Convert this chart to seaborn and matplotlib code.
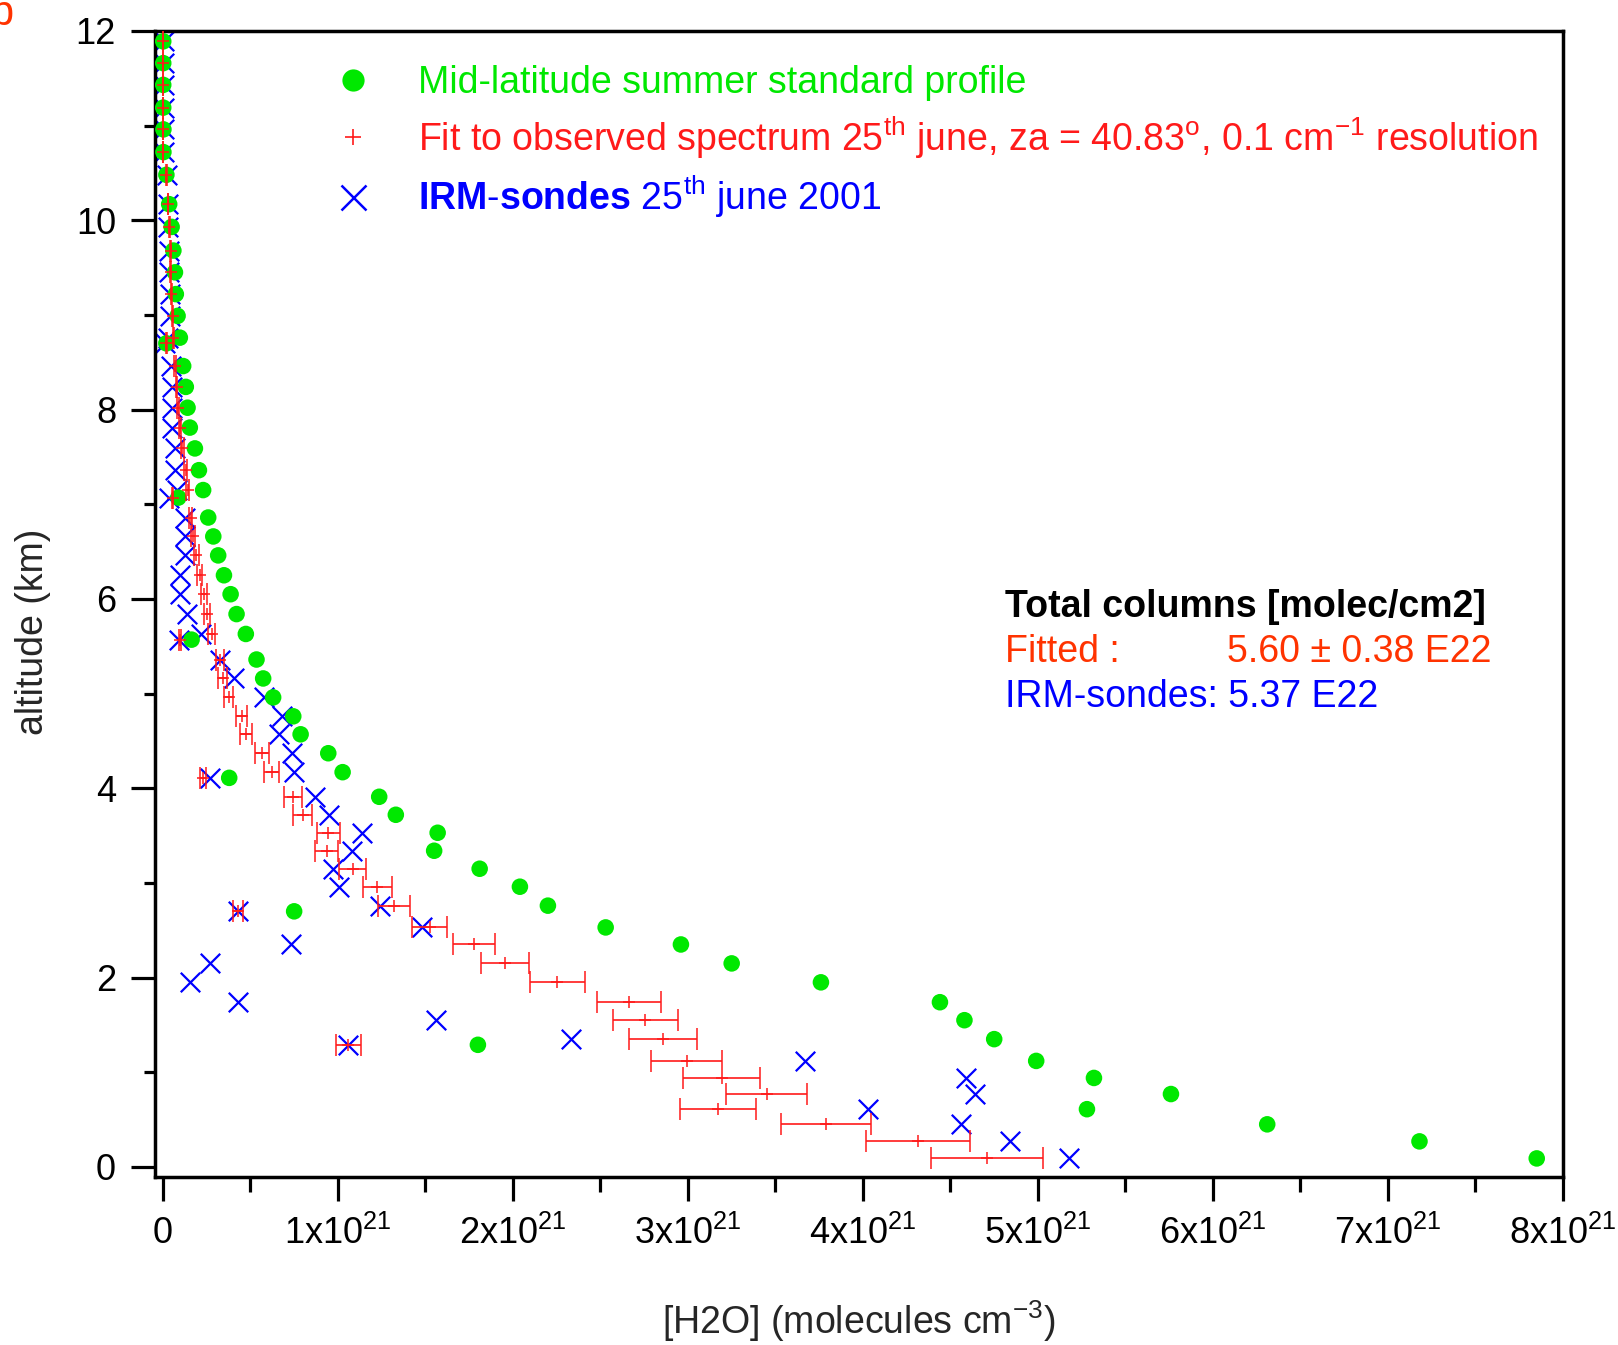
import numpy as np
import pandas as pd
import matplotlib
matplotlib.use('Agg')
import matplotlib.pyplot as plt
from matplotlib.lines import Line2D
from matplotlib.ticker import MultipleLocator
import seaborn as sns

# altitude grid shared by the three profiles (km)
altitude_km = [11.89, 11.66, 11.43, 11.19, 10.96, 10.72, 10.48, 10.17, 9.93, 9.68,
               9.45, 9.22, 8.99, 8.76, 8.70, 8.46, 8.24, 8.02, 7.81, 7.59,
               7.36, 7.15, 7.07, 6.86, 6.66, 6.46, 6.25, 6.05, 5.84, 5.63,
               5.57, 5.36, 5.16, 4.96, 4.76, 4.57, 4.37, 4.17, 4.11, 3.91,
               3.72, 3.53, 3.34, 3.15, 2.96, 2.76, 2.70, 2.53, 2.35, 2.15,
               1.95, 1.74, 1.55, 1.35, 1.29, 1.12, 0.94, 0.77, 0.61, 0.45,
               0.27, 0.09]

# [H2O] in units of 1e21 molecules cm-3
h2o_standard = [0.002, 0.002, 0.002, 0.002, 0.003, 0.003, 0.020, 0.036, 0.050, 0.060,
                0.069, 0.074, 0.084, 0.097, 0.020, 0.116, 0.131, 0.141, 0.154, 0.183,
                0.206, 0.230, 0.088, 0.259, 0.288, 0.316, 0.349, 0.387, 0.421, 0.474,
                0.164, 0.535, 0.573, 0.630, 0.745, 0.787, 0.945, 1.027, 0.379, 1.236,
                1.331, 1.570, 1.550, 1.810, 2.040, 2.200, 0.750, 2.530, 2.960, 3.250,
                3.760, 4.440, 4.580, 4.750, 1.800, 4.990, 5.320, 5.760, 5.280, 6.310,
                7.180, 7.850]

h2o_fitted = [0.002, 0.002, 0.002, 0.002, 0.003, 0.003, 0.020, 0.030, 0.036, 0.044,
              0.044, 0.047, 0.055, 0.060, 0.020, 0.069, 0.078, 0.084, 0.097, 0.112,
              0.131, 0.141, 0.055, 0.158, 0.173, 0.192, 0.211, 0.236, 0.253, 0.278,
              0.097, 0.326, 0.341, 0.377, 0.450, 0.474, 0.567, 0.621, 0.230, 0.745,
              0.798, 0.945, 0.935, 1.084, 1.225, 1.320, 0.430, 1.526, 1.780, 1.954,
              2.253, 2.665, 2.756, 2.857, 1.060, 2.993, 3.192, 3.450, 3.173, 3.790,
              4.316, 4.709]

h2o_fitted_err = [0.0002, 0.0002, 0.0002, 0.0002, 0.0002, 0.0002, 0.001, 0.002, 0.003, 0.003,
                  0.003, 0.003, 0.004, 0.004, 0.001, 0.005, 0.005, 0.006, 0.007, 0.008,
                  0.009, 0.010, 0.004, 0.011, 0.012, 0.013, 0.015, 0.017, 0.018, 0.019,
                  0.007, 0.023, 0.024, 0.026, 0.031, 0.033, 0.040, 0.043, 0.016, 0.052,
                  0.056, 0.066, 0.065, 0.077, 0.083, 0.090, 0.030, 0.100, 0.120, 0.136,
                  0.158, 0.183, 0.186, 0.193, 0.072, 0.204, 0.218, 0.232, 0.218, 0.257,
                  0.296, 0.318]

h2o_sondes = [0.004, 0.004, 0.005, 0.005, 0.006, 0.008, 0.025, 0.030, 0.030, 0.035,
              0.035, 0.040, 0.040, 0.030, 0.010, 0.045, 0.050, 0.050, 0.050, 0.070,
              0.070, 0.080, 0.035, 0.126, 0.126, 0.124, 0.100, 0.100, 0.139, 0.215,
              0.091, 0.326, 0.405, 0.578, 0.678, 0.665, 0.735, 0.752, 0.269, 0.871,
              0.950, 1.135, 1.082, 0.973, 1.007, 1.240, 0.430, 1.480, 0.730, 0.270,
              0.155, 0.430, 1.560, 2.330, 1.060, 3.670, 4.590, 4.640, 4.030, 4.560,
              4.840, 5.180]

x_tick_values = [0, 1, 2, 3, 4, 5, 6, 7, 8]
x_tick_labels = ['0', '1x10$^{21}$', '2x10$^{21}$', '3x10$^{21}$', '4x10$^{21}$',
                 '5x10$^{21}$', '6x10$^{21}$', '7x10$^{21}$', '8x10$^{21}$']

series_labels = ['Mid-latitude summer standard profile',
                 'Fit to observed spectrum 25$^{th}$ june, za = 40.83$^{o}$, 0.1 cm$^{-1}$ resolution',
                 r'$\mathbf{IRM}$-$\mathbf{sondes}$ 25$^{th}$ june 2001']

GREEN = '#00e800'
RED = '#ff1a1a'
BLUE = '#0000ff'
ORANGE = '#ff3300'

sns.set_style('ticks')
plt.rcParams['font.family'] = ['Liberation Sans', 'DejaVu Sans']
plt.rcParams['mathtext.fontset'] = 'custom'
plt.rcParams['mathtext.rm'] = 'Liberation Sans'
plt.rcParams['mathtext.it'] = 'Liberation Sans:italic'
plt.rcParams['mathtext.bf'] = 'Liberation Sans:bold'
plt.rcParams['mathtext.default'] = 'regular'

df = pd.DataFrame({'alt': altitude_km, 'standard': h2o_standard,
                   'fitted': h2o_fitted, 'err': h2o_fitted_err, 'sondes': h2o_sondes})

fig = plt.figure(figsize=(16.18, 13.45), dpi=100)
ax = fig.add_axes([0.0958, 0.125, 0.8702, 0.852])

# sondes behind, standard profile in the middle, fit on top
sns.scatterplot(data=df, x='sondes', y='alt', marker='x', s=196, color=BLUE,
                linewidth=1.6, ax=ax, zorder=2)
sns.scatterplot(data=df, x='standard', y='alt', marker='o', s=142, color=GREEN,
                edgecolor='none', ax=ax, zorder=3)
ax.errorbar(df['fitted'], df['alt'], xerr=df['err'], fmt='+', color=RED, ms=8, mew=1.1,
            elinewidth=1.2, capsize=8, capthick=1.2, zorder=4)

ax.set_xlim(-0.045, 8.0)
ax.set_ylim(-0.105, 12)
ax.set_xticks(x_tick_values)
ax.set_xticklabels(x_tick_labels)
ax.xaxis.set_minor_locator(MultipleLocator(0.5))
ax.yaxis.set_major_locator(MultipleLocator(2))
ax.yaxis.set_minor_locator(MultipleLocator(1))
ax.tick_params(which='major', direction='out', length=17, width=2.3, labelsize=26, pad=11,
               color='black', labelcolor='black')
ax.tick_params(axis='x', which='minor', direction='out', length=11, width=2.3, color='black')
ax.tick_params(axis='y', which='minor', direction='out', length=8, width=2.3, color='black')
for sp in ax.spines.values():
    sp.set_linewidth(2.5)
    sp.set_color('black')

ax.set_xlabel('[H2O] (molecules cm$^{-3}$)', fontsize=27)
ax.set_ylabel('altitude (km)', fontsize=27)
ax.xaxis.set_label_coords(0.5, -0.106)
ax.yaxis.set_label_coords(-0.074, 0.476)

handles = [Line2D([], [], ls='', marker='o', ms=16, color=GREEN, mec='none'),
           Line2D([], [], ls='', marker='+', ms=12, mew=1.2, color=RED),
           Line2D([], [], ls='', marker='x', ms=18, mew=1.8, color=BLUE)]
ax.legend(handles, series_labels, loc='upper left', bbox_to_anchor=(0.127, 0.9705),
          frameon=False, fontsize=27, handlelength=1.0, handletextpad=1.25,
          labelspacing=0.36, borderpad=0, borderaxespad=0,
          labelcolor=[GREEN, RED, BLUE])

fig.text(0.621, 0.5413, 'Total columns [molec/cm2]', fontsize=27, fontweight='bold',
         color='black', va='baseline')
fig.text(0.621, 0.5078, 'Fitted :', fontsize=27, color=ORANGE, va='baseline')
fig.text(0.7583, 0.5078, '5.60 \u00b1 0.38 E22', fontsize=27, color=ORANGE, va='baseline')
fig.text(0.621, 0.4743, 'IRM-sondes: 5.37 E22', fontsize=27, color=BLUE, va='baseline')

fig.text(-0.006, 1 - 25 / 1345, 'b', fontsize=30, color=ORANGE, va='baseline', ha='left')

fig.savefig('out.png', dpi=100)
